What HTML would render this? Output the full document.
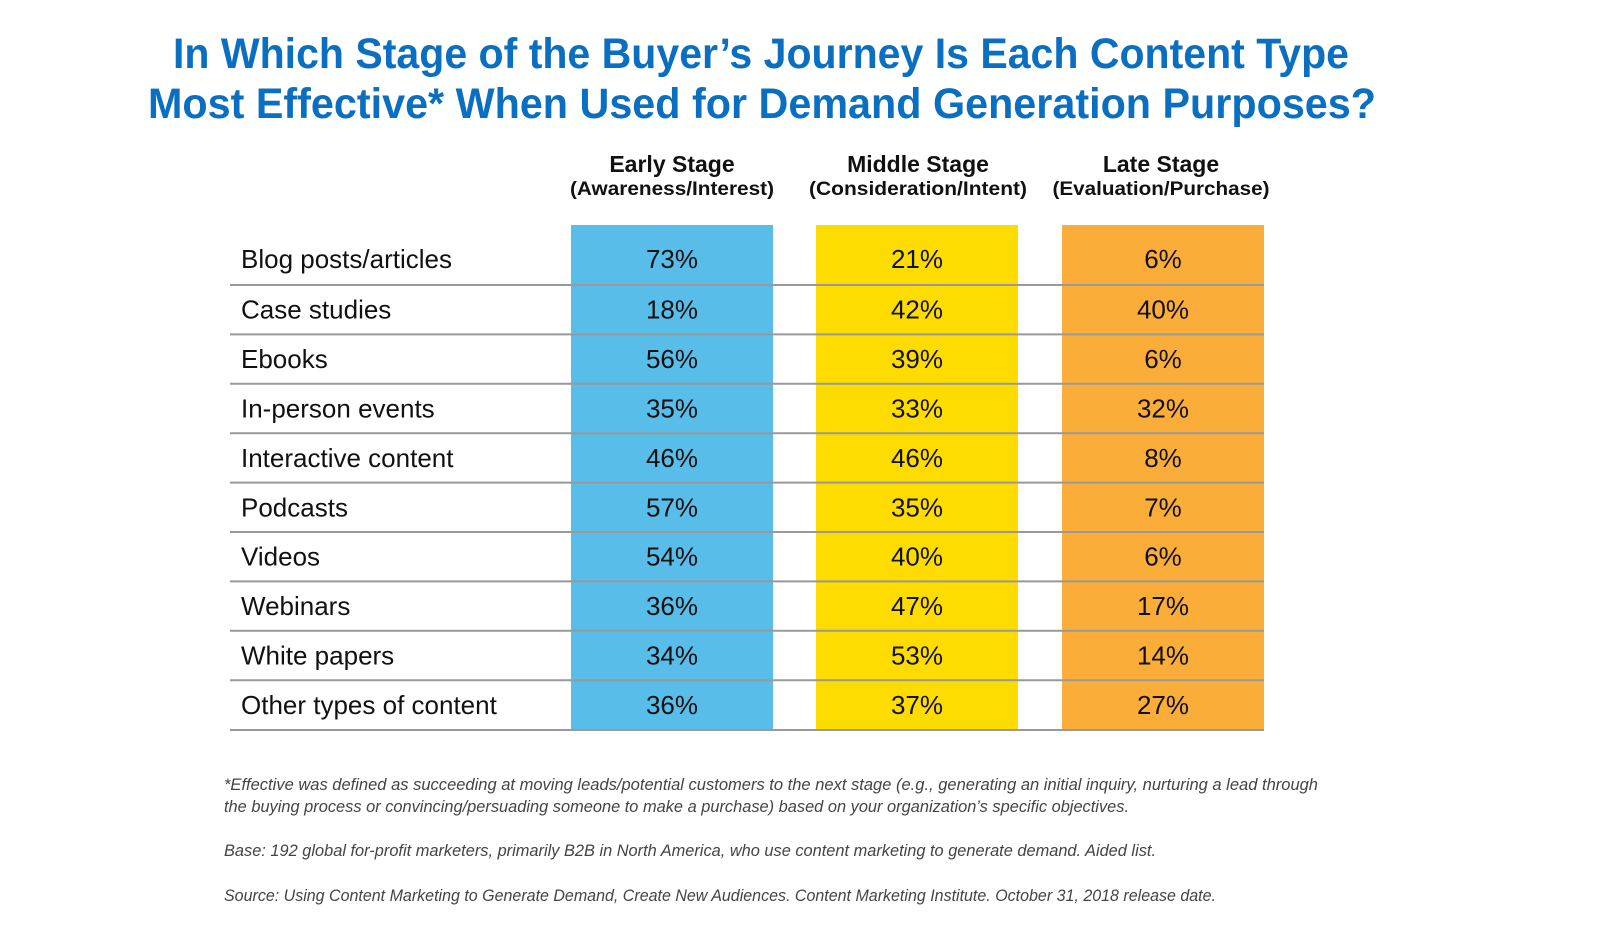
<!DOCTYPE html>
<html><head><meta charset="utf-8"><style>
body{margin:0;background:#fff;}
svg{display:block;font-family:"Liberation Sans",sans-serif;}
</style></head><body>
<svg id="chart" width="1600" height="945" viewBox="0 0 1600 945">
<g fill="#0b6fc1" font-weight="bold" font-size="43" text-anchor="middle">
<text x="761" y="68" textLength="1176" lengthAdjust="spacingAndGlyphs">In Which Stage of the Buyer’s Journey Is Each Content Type</text>
<text x="762" y="118" textLength="1228" lengthAdjust="spacingAndGlyphs">Most Effective* When Used for Demand Generation Purposes?</text>
</g>
<g id="cells"></g>
<g fill="#444" font-style="italic" font-size="17">
<text x="224" y="790" textLength="1094" lengthAdjust="spacingAndGlyphs">*Effective was defined as succeeding at moving leads/potential customers to the next stage (e.g., generating an initial inquiry, nurturing a lead through</text>
<text x="224" y="812" textLength="905" lengthAdjust="spacingAndGlyphs">the buying process  or convincing/persuading someone to make a purchase) based on your organization’s specific objectives.</text>
<text x="224" y="856" textLength="932" lengthAdjust="spacingAndGlyphs">Base: 192 global for-profit marketers, primarily B2B in North America, who use content marketing to generate demand. Aided list.</text>
<text x="224" y="901" textLength="992" lengthAdjust="spacingAndGlyphs">Source: Using Content Marketing to Generate Demand, Create New Audiences. Content Marketing Institute. October 31, 2018 release date.</text>
</g>
</svg>
<script>
const categories = ["Blog posts/articles","Case studies","Ebooks","In-person events","Interactive content","Podcasts","Videos","Webinars","White papers","Other types of content"];
const stageNames = ["Early Stage","Middle Stage","Late Stage"];
const stageSubs = ["(Awareness/Interest)","(Consideration/Intent)","(Evaluation/Purchase)"];
const earlyValues = [73,18,56,35,46,57,54,36,34,36];
const middleValues = [21,42,39,33,46,35,40,47,53,37];
const lateValues = [6,40,6,32,8,7,6,17,14,27];
const series = [earlyValues, middleValues, lateValues];
const colors = ["#58bde9","#ffdc00","#fbad3a"];
const colX = [571,816,1062], colW = 202;
const headerCx = [672,918,1161];
const subW = [204,218,217];
const top0 = 225, firstLine = 285, rowH = 49.4, bottom = 730;
const ns = "http://www.w3.org/2000/svg";
const g = document.getElementById('cells');
function mk(tag, attrs, txt){const e=document.createElementNS(ns,tag);for(const k in attrs)e.setAttribute(k,attrs[k]);if(txt!==undefined)e.textContent=txt;g.appendChild(e);return e;}
function rowCenter(i){return i===0?259:firstLine+rowH*(i-0.5);}
function lineY(i){return firstLine+rowH*i;}
series.forEach((s,c)=>{
  const r=mk('rect',{x:colX[c],y:top0,width:colW,height:bottom-top0,fill:colors[c]});
  
  
  const h=mk('text',{x:headerCx[c],y:172,'text-anchor':'middle','font-weight':'bold','font-size':23,fill:'#111'},stageNames[c]);
  
  
  const sb=mk('text',{x:headerCx[c],y:195,'text-anchor':'middle','font-weight':'bold','font-size':19,fill:'#111',textLength:subW[c],lengthAdjust:'spacingAndGlyphs'},stageSubs[c]);
  
  
});
for(let i=0;i<categories.length;i++){
  const y = i===categories.length-1 ? bottom : lineY(i);
  const l=mk('line',{x1:230,x2:1264,y1:y,y2:y,stroke:'#999','stroke-width':2});
  
  
}
categories.forEach((cat,i)=>{
  const cy=rowCenter(i)+9;
  const t=mk('text',{x:241,y:cy,'font-size':26,fill:'#111'},cat);
  
  
  series.forEach((s,c)=>{
    const v=mk('text',{x:colX[c]+colW/2,y:cy,'text-anchor':'middle','font-size':26,fill:'#111'},s[i]+'%');
    
    
  });
});
</script>
</body></html>
